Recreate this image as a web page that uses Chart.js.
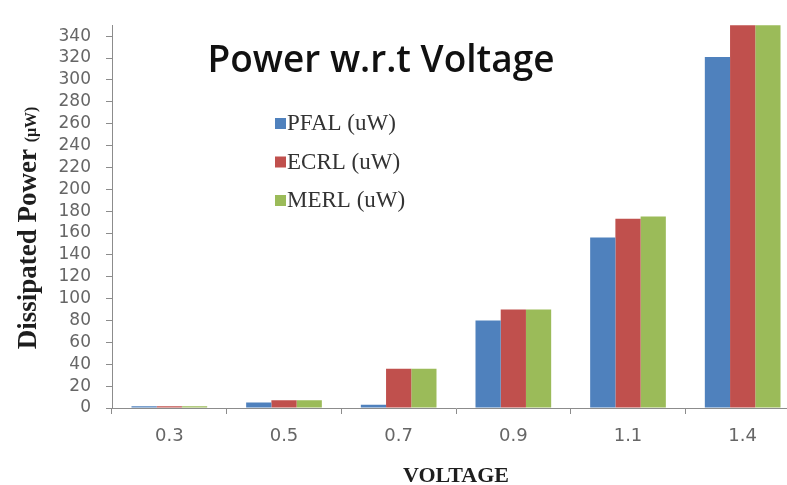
<!DOCTYPE html>
<html>
<head>
<meta charset="utf-8">
<script src="https://cdn.jsdelivr.net/npm/chart.js@4.4.0/dist/chart.umd.min.js"></script>
<style>
  html, body { margin: 0; padding: 0; background: #fff; overflow: hidden; }
  #powerChart { display: block; }
</style>
</head>
<body>
<canvas id="powerChart" width="800" height="490"></canvas>
<script>
const voltages = ["0.3", "0.5", "0.7", "0.9", "1.1", "1.4"];
const pfal = [1.5, 5, 3, 80, 156, 321];
const ecrl = [1.5, 7, 36, 90, 173, 356];
const merl = [1.5, 7, 36, 90, 175, 356];
const yTicks = [0, 20, 40, 60, 80, 100, 120, 140, 160, 180, 200, 220, 240, 260, 280, 300, 320, 340];

const axisGray = "#8c8c8c";
const tickGray = "#666";

// title, legend and the y title are drawn on top, inside the plot
const overlay = {
  id: "overlay",
  afterDraw(chart) {
    const ctx = chart.ctx;
    ctx.save();

    ctx.fillStyle = "#111";
    ctx.font = "600 37px 'Open Sans'";
    ctx.textAlign = "center";
    ctx.textBaseline = "alphabetic";
    ctx.fillText("Power w.r.t Voltage", 381, 72);

    ctx.textAlign = "left";
    ctx.textBaseline = "middle";
    ctx.font = "23px 'Liberation Serif'";
    chart.data.datasets.forEach((ds, i) => {
      const y = 123 + i * 38.5;
      ctx.fillStyle = ds.backgroundColor;
      ctx.fillRect(275, y - 5, 11, 11);
      ctx.fillStyle = "#333";
      ctx.fillText(ds.label, 287, y + 1);
    });

    // y title: big bold words, small unit
    ctx.translate(26, 228);
    ctx.rotate(-Math.PI / 2);
    ctx.fillStyle = "#1e1e1e";
    const main = "Dissipated Power ";
    const unit = "(\u03bcW)";
    ctx.font = "bold 27px 'Liberation Serif'";
    const w1 = ctx.measureText(main).width;
    ctx.font = "bold 16px 'Liberation Serif'";
    const w2 = ctx.measureText(unit).width;
    let x = -(w1 + w2) / 2;
    ctx.textAlign = "left";
    ctx.textBaseline = "alphabetic";
    ctx.font = "bold 27px 'Liberation Serif'";
    ctx.fillText(main, x, 10);
    ctx.font = "bold 16px 'Liberation Serif'";
    ctx.fillText(unit, x + w1, 10);

    ctx.restore();
  }
};

new Chart(document.getElementById("powerChart").getContext("2d"), {
  type: "bar",
  data: {
    labels: voltages,
    datasets: [
      { label: "PFAL (uW)", data: pfal, backgroundColor: "#4f81bd" },
      { label: "ECRL (uW)", data: ecrl, backgroundColor: "#c0504d" },
      { label: "MERL (uW)", data: merl, backgroundColor: "#9bbb59" }
    ]
  },
  options: {
    responsive: false,
    animation: false,
    layout: { padding: { top: 21, left: 0, right: 0, bottom: 0 } },
    datasets: {
      bar: { categoryPercentage: 0.66, barPercentage: 1.0, borderWidth: 0 }
    },
    plugins: {
      legend: { display: false },
      title: { display: false },
      tooltip: { enabled: false }
    },
    scales: {
      x: {
        offset: true,
        grid: {
          offset: true,
          drawOnChartArea: false,
          drawTicks: true,
          tickLength: 6,
          color: axisGray
        },
        border: { color: axisGray, width: 1 },
        ticks: {
          color: tickGray,
          padding: 12,
          font: { family: "'DejaVu Sans'", size: 18 }
        },
        title: {
          display: true,
          text: "VOLTAGE",
          color: "#1e1e1e",
          padding: { top: 0, bottom: 0 },
          font: { family: "'Liberation Serif'", size: 22, weight: "bold" }
        },
        afterFit(scale) { scale.height = 82; }
      },
      y: {
        min: 0,
        max: 350,
        grid: {
          drawOnChartArea: false,
          drawTicks: true,
          tickLength: 6,
          color: axisGray
        },
        border: { color: axisGray, width: 1 },
        ticks: {
          stepSize: 20,
          autoSkip: false,
          includeBounds: false,
          color: tickGray,
          padding: 15,
          font: { family: "'DejaVu Sans'", size: 17 }
        },
        afterBuildTicks(scale) {
          scale.ticks = yTicks.map((v) => ({ value: v }));
        },
        afterFit(scale) { scale.width = 112; }
      }
    }
  },
  plugins: [overlay]
});
</script>
</body>
</html>
